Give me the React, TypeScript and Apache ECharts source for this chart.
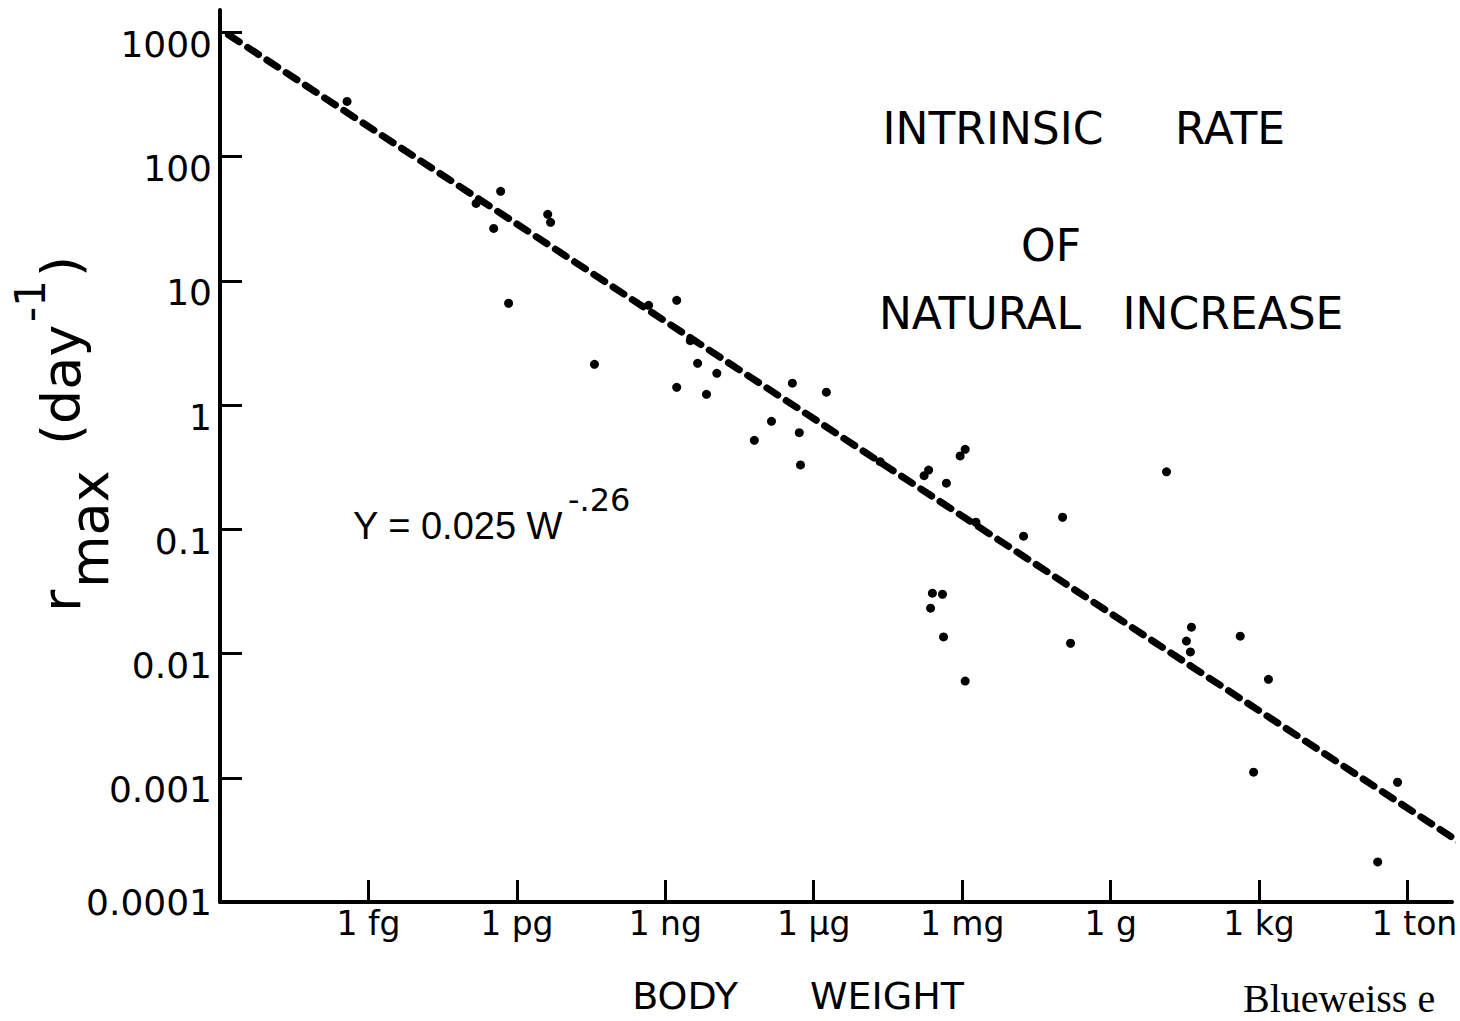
import React, { useEffect, useRef } from "react";
import * as echarts from "echarts";

// ---- data ----
// body weight (grams) and intrinsic rate r_max (day^-1) of each plotted organism
const massGrams = [
  3.7e-16, 4.7e-13, 4.2e-12, 4.8e-12, 3.4e-13, 6.8e-13, 4.6e-10, 1.7e-9, 3.2e-9,
  3.7e-11, 4.5e-9, 1.1e-8, 1.7e-9, 6.8e-9, 3.7e-7, 1.8e-6, 1.4e-7, 5.1e-7, 6.3e-8,
  5.4e-7, 9.1e-4, 1.15e-3, 2.1e-4, 1.7e-4, 4.8e-4, 13.5, 0.107, 0.0174, 1.9e-3,
  2.5e-4, 4.0e-4, 2.3e-4, 4.2e-4, 0.155, 1.15e-3, 43, 34, 41, 417, 1550, 776,
  6.3e5, 2.5e5, 2.2e-5, 1.5e-13,
];
const rMax = [
  278, 52.5, 34.3, 29.6, 26.4, 6.6, 6.35, 6.97, 3.3, 2.13, 2.17, 1.8, 1.39, 1.22,
  1.5, 1.27, 0.74, 0.6, 0.52, 0.33, 0.39, 0.44, 0.3, 0.27, 0.235, 0.29, 0.125,
  0.088, 0.114, 0.0306, 0.03, 0.0232, 0.0136, 0.0121, 0.006, 0.0163, 0.0126,
  0.0103, 0.0138, 0.0062, 0.00111, 0.00092, 0.00021, 0.35, 42,
];
// fitted line Y = 0.025 W^-.26, end points as drawn
const trendMass = [1.48e-18, 1.17e7];
const trendRate = [957, 3.0e-4];

const xTickGrams = [1e-15, 1e-12, 1e-9, 1e-6, 1e-3, 1, 1e3, 1e6];
const xTickLabels = ["1 fg", "1 pg", "1 ng", "1 μg", "1 mg", "1 g", "1 kg", "1 ton"];
const yTickValues = [0.0001, 0.001, 0.01, 0.1, 1, 10, 100, 1000];
const yTickLabels = ["0.0001", "0.001", "0.01", "0.1", "1", "10", "100", "1000"];
const xRange = [1e-18, 7.94e6];
const yRange = [1e-4, 1514];

const lg = (v: number) => Math.round(Math.log10(v) * 1e6) / 1e6;
const FONT = "DejaVu Sans";

function txt(text: string, x: number, y: number, fontSize: number, align = "center", family = FONT) {
  return {
    type: "text",
    x,
    y,
    silent: true,
    style: {
      text,
      fontSize,
      fontFamily: family,
      fill: "#000",
      align,
      textAlign: align,
      verticalAlign: "middle",
      textVerticalAlign: "middle",
    },
  };
}

export default function App() {
  const ref = useRef<HTMLDivElement>(null);
  useEffect(() => {
    document.body.style.margin = "0";
    document.body.style.background = "#fff";
    const chart = echarts.init(ref.current!, null, { renderer: "svg" });
    const xTicks = xTickGrams.map(lg);
    const yTicks = yTickValues.map(lg);
    const findIdx = (arr: number[], v: number) => arr.findIndex((a) => Math.abs(a - v) < 1e-4);

    const yt = 54;
    const option: any = {
      animation: false,
      backgroundColor: "#fff",
      grid: { left: 220, right: 8, top: 10, bottom: 119, containLabel: false, outerBoundsMode: "none" },
      xAxis: {
        type: "value",
        min: lg(xRange[0]),
        max: lg(xRange[1]),
        axisLine: { show: true, onZero: false, lineStyle: { color: "#000", width: 4 } },
        axisTick: { show: true, inside: true, length: 22, lineStyle: { color: "#000", width: 3 }, customValues: xTicks },
        axisLabel: {
          customValues: xTicks,
          fontFamily: FONT,
          fontSize: 33,
          color: "#000",
          margin: 5,
          formatter: (v: number) => {
            const i = findIdx(xTicks, v);
            if (i < 0) return "";
            if (i === xTicks.length - 1) return "{s|" + xTickLabels[i] + "}";
            return xTickLabels[i];
          },
          rich: { s: { fontFamily: FONT, fontSize: 33, color: "#000", padding: [0, 0, 0, 14] } },
        },
        splitLine: { show: false },
      },
      yAxis: {
        type: "value",
        min: lg(yRange[0]),
        max: lg(yRange[1]),
        axisLine: { show: true, onZero: false, lineStyle: { color: "#000", width: 4 } },
        axisTick: { show: true, inside: true, length: 22, lineStyle: { color: "#000", width: 3 }, customValues: yTicks },
        axisLabel: {
          customValues: yTicks,
          fontFamily: FONT,
          fontSize: 36,
          color: "#000",
          margin: 8,
          formatter: (v: number) => {
            const i = findIdx(yTicks, v);
            if (i < 0) return "";
            return (i === 0 ? "{z|" : "{d|") + yTickLabels[i] + "}";
          },
          rich: {
            z: { fontFamily: FONT, fontSize: 36, color: "#000" },
            d: { fontFamily: FONT, fontSize: 36, color: "#000", padding: [24, 0, 0, 0] },
          },
        },
        splitLine: { show: false },
      },
      series: [
        {
          type: "line",
          data: trendMass.map((m, i) => [lg(m), lg(trendRate[i])]),
          symbol: "none",
          clip: false,
          lineStyle: { color: "#000", width: 7, type: [13, 10], cap: "round", opacity: 1 },
          z: 2,
        },
        {
          type: "scatter",
          data: massGrams.map((m, i) => [lg(m), lg(rMax[i])]),
          symbol: "circle",
          symbolSize: 9,
          itemStyle: { color: "#000", opacity: 1 },
          z: 3,
        },
      ],
      graphic: {
        elements: [
          txt("INTRINSIC", 993, 128, 44),
          txt("RATE", 1230, 128, 44),
          txt("OF", 1051, 245, 44),
          txt("NATURAL", 980, 313, 44),
          txt("INCREASE", 1233, 313, 44),
          txt("Y = 0.025 W", 353, 526, 38, "left", "Liberation Sans"),
          txt("-.26", 568, 500, 32, "left"),
          txt("BODY", 685, 996, 38),
          txt("WEIGHT", 887, 996, 38),
          txt("Blueweiss e", 1243, 998, 40, "left", "Liberation Serif"),
          {
            type: "group",
            x: 80,
            y: 612,
            rotation: Math.PI / 2,
            silent: true,
            children: [
              txt("r", 0, -0.346 * yt, yt, "left"),
              txt("max", 24, 28 - 0.346 * yt, yt, "left"),
              txt("(day", 167, -0.346 * yt, yt, "left"),
              txt("-1", 290, -35 - 0.346 * 42, 42, "left"),
              txt(")", 335, -0.346 * yt, yt, "left"),
            ],
          },
        ],
      },
    };
    chart.setOption(option);
    return () => chart.dispose();
  }, []);
  return <div ref={ref} style={{ width: 1460, height: 1021 }} />;
}
